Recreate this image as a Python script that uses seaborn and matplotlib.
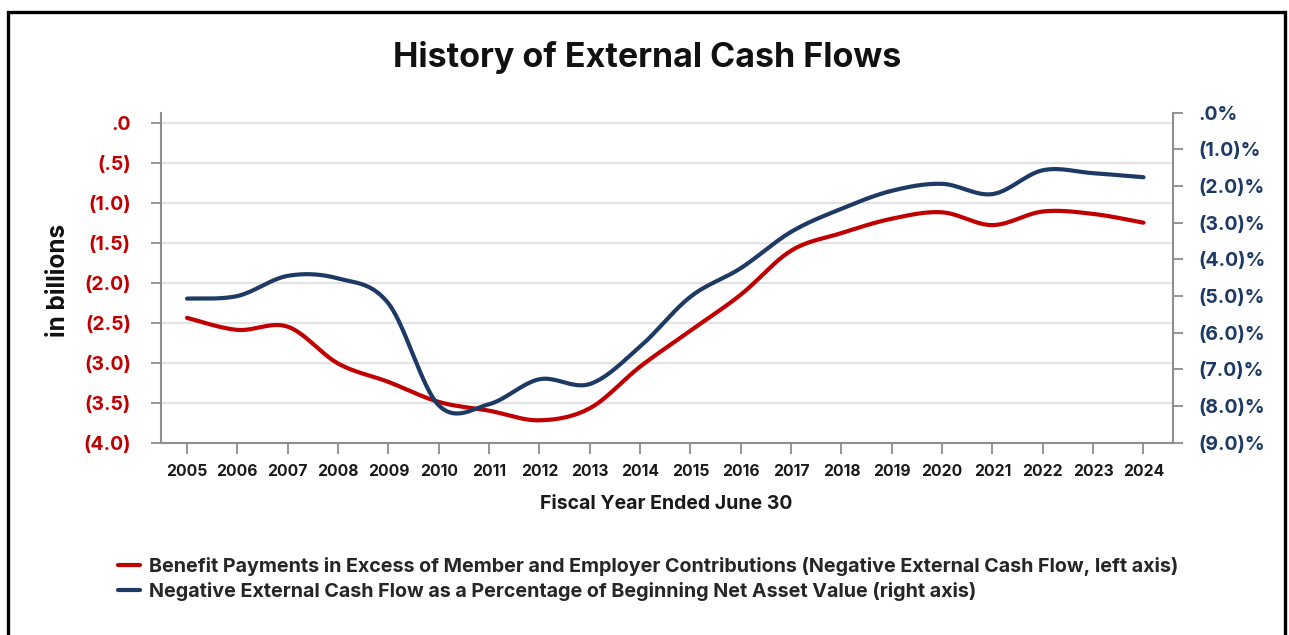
import numpy as np
import pandas as pd
import matplotlib
matplotlib.use("Agg")
import matplotlib.pyplot as plt
from matplotlib.lines import Line2D
from matplotlib.patches import Rectangle
import seaborn as sns

# ---- data -------------------------------------------------------------
years = list(range(2005, 2025))
cash_flow_bn = [-2.44, -2.59, -2.55, -3.01, -3.24, -3.49, -3.60, -3.72, -3.57, -3.05,
                -2.60, -2.15, -1.60, -1.38, -1.20, -1.12, -1.28, -1.11, -1.14, -1.25]
pct_of_nav = [-5.07, -5.00, -4.45, -4.52, -5.20, -7.98, -7.95, -7.27, -7.40, -6.38,
              -5.02, -4.24, -3.25, -2.62, -2.13, -1.94, -2.22, -1.57, -1.65, -1.76]

left_ticks = [0.0, -0.5, -1.0, -1.5, -2.0, -2.5, -3.0, -3.5, -4.0]
left_labels = [".0", "(.5)", "(1.0)", "(1.5)", "(2.0)", "(2.5)", "(3.0)", "(3.5)", "(4.0)"]
right_ticks = [0, -1, -2, -3, -4, -5, -6, -7, -8, -9]
right_labels = [".0%", "(1.0)%", "(2.0)%", "(3.0)%", "(4.0)%", "(5.0)%",
                "(6.0)%", "(7.0)%", "(8.0)%", "(9.0)%"]

series_names = [
    "Benefit Payments in Excess of Member and Employer Contributions (Negative External Cash Flow, left axis)",
    "Negative External Cash Flow as a Percentage of Beginning Net Asset Value (right axis)",
]

RED = "#C00000"
NAVY = "#1D3A64"
SPINE = "#8E8E8E"


def smooth_path(x, y, n=40):
    """Bezier smoothing through every point (Catmull-Rom control points)."""
    pts = np.column_stack([x, y]).astype(float)
    ext = np.vstack([pts[0], pts, pts[-1]])
    segs = []
    for i in range(len(pts) - 1):
        p0, p1, p2, p3 = ext[i], ext[i + 1], ext[i + 2], ext[i + 3]
        c1 = p1 + (p2 - p0) / 6.0
        c2 = p2 - (p3 - p1) / 6.0
        t = np.linspace(0, 1, n, endpoint=(i == len(pts) - 2))[:, None]
        segs.append((1 - t) ** 3 * p1 + 3 * (1 - t) ** 2 * t * c1
                    + 3 * (1 - t) * t ** 2 * c2 + t ** 3 * p2)
    out = np.vstack(segs)
    return out[:, 0], out[:, 1]


sns.set_theme(style="white")
plt.rcParams["font.family"] = ["Inter", "DejaVu Sans"]
plt.rcParams["font.weight"] = "bold"

W, H = 1289, 635
fig = plt.figure(figsize=(W / 100, H / 100), dpi=100)
fig.patch.set_facecolor("white")

ax_l, ax_r, ax_t, ax_b = 160.7, 1172.5, 112.7, 442.7
ax = fig.add_axes([ax_l / W, 1 - ax_b / H, (ax_r - ax_l) / W, (ax_b - ax_t) / H])
ax2 = ax.twinx()

bx, by = smooth_path(years, cash_flow_bn)
df_red = pd.DataFrame({"year": bx, "value": by})
sns.lineplot(data=df_red, x="year", y="value", ax=ax, sort=False, estimator=None,
             color=RED, lw=3.0)

px, py = smooth_path(years, pct_of_nav)
df_blue = pd.DataFrame({"year": px, "value": py})
sns.lineplot(data=df_blue, x="year", y="value", ax=ax2, sort=False, estimator=None,
             color=NAVY, lw=3.0)

x_pad_l = (187.0 - ax_l) / 50.3
x_pad_r = (ax_r - 1143.5) / 50.3
ax.set_xlim(years[0] - x_pad_l, years[-1] + x_pad_r)
ax.set_ylim(-4.0, 10.0 / 80.0)
ax2.set_ylim(-9.0, 0.0)

ax.set_xticks(years)
ax.set_xticklabels([str(y) for y in years], fontsize=11.3, fontweight="bold", color="#1a1a1a")
ax.set_yticks(left_ticks)
ax.set_yticklabels(left_labels, fontsize=14, fontweight="bold", color=RED)
ax2.set_yticks(right_ticks)
ax2.set_yticklabels(right_labels, fontsize=14, fontweight="bold", color=NAVY)
for lab in ax2.get_yticklabels():
    lab.set_horizontalalignment("left")

ax.tick_params(axis="x", direction="out", length=8, width=1.3, color=SPINE, pad=7, bottom=True)
ax.tick_params(axis="y", direction="out", length=7.5, width=1.3, color=SPINE, pad=14, left=True)
ax2.tick_params(axis="y", direction="out", length=7.5, width=1.3, color=SPINE, pad=11, right=True)

ax.grid(axis="y", color="#E3E3E3", lw=1.5)
ax.grid(axis="x", visible=False)
ax2.grid(False)
ax.set_axisbelow(True)

for a in (ax, ax2):
    a.spines["top"].set_visible(False)
    for s in ("left", "right", "bottom"):
        a.spines[s].set_color(SPINE)
        a.spines[s].set_linewidth(1.5)
ax.spines["right"].set_visible(False)
ax2.spines["left"].set_visible(False)
ax2.spines["bottom"].set_visible(False)

ax.set_xlabel("Fiscal Year Ended June 30", fontsize=14, fontweight="bold",
              color="#1a1a1a", labelpad=12)
ax.set_ylabel("in billions", fontsize=17.5, fontweight="bold", color="#111111")
ax.yaxis.set_label_coords((70 - ax_l) / (ax_r - ax_l), (ax_b - 280) / (ax_b - ax_t))
ax2.set_ylabel("")

fig.text(647.5 / W, 1 - 57 / H, "History of External Cash Flows", ha="center", va="center",
         fontsize=24.5, fontweight="bold", color="#111111")

handles = [Line2D([0], [0], color=RED, lw=3.0), Line2D([0], [0], color=NAVY, lw=3.0)]
fig.legend(handles, series_names, loc="upper left",
           bbox_to_anchor=(118 / W, 1 - 557 / H), frameon=False,
           prop={"weight": "bold", "size": 14.2}, handlelength=1.1,
           handletextpad=0.45, labelspacing=0.3, borderpad=0, borderaxespad=0)

# outer frame (open at the bottom edge)
fig.add_artist(Rectangle((8 / W, -0.2), (1285 - 8) / W, 1.2 - 11.5 / H,
                         transform=fig.transFigure, fill=False,
                         edgecolor="black", lw=2.4))

fig.savefig("out.png", dpi=100)
